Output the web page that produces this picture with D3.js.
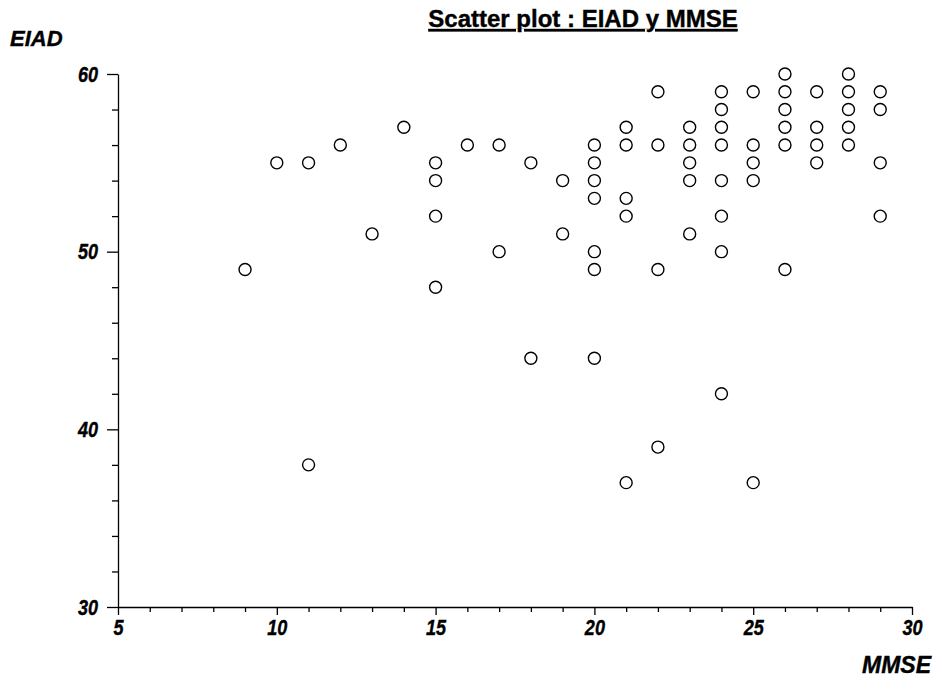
<!DOCTYPE html>
<html>
<head>
<meta charset="utf-8">
<script src="https://cdn.jsdelivr.net/npm/d3@7"></script>
<style>
  body { margin: 0; background: #fff; }
  svg text { font-family: "Liberation Sans", Arial, sans-serif; fill: #000; stroke: #000; stroke-width: 0.4px; }
</style>
</head>
<body>
<svg id="chart" width="937" height="684"></svg>
<script>
// data: one array of EIAD values per MMSE score
let mmse = [9, 10, 11, 12, 13, 14, 15, 16, 17, 18, 19, 20, 21, 22, 23, 24, 25, 26, 27, 28, 29];
let eiad = [
  [49],
  [55],
  [55, 38],
  [56],
  [51],
  [57],
  [55, 54, 52, 48],
  [56],
  [56, 50],
  [55, 44],
  [54, 51],
  [56, 55, 54, 53, 50, 49, 44],
  [57, 56, 53, 52, 37],
  [59, 56, 49, 39],
  [57, 56, 55, 54, 51],
  [59, 58, 57, 56, 54, 52, 50, 42],
  [59, 56, 55, 54, 37],
  [60, 59, 58, 57, 56, 49],
  [59, 57, 56, 55],
  [60, 59, 58, 57, 56],
  [59, 58, 55, 52]
];
let xTicks = d3.range(5, 31, 1);
let yTicks = d3.range(30, 61, 2);

let svg = d3.select('#chart');

// scales
let x = d3.scaleLinear()
  .domain([5, 30])
  .range([118, 912]);

let y = d3.scaleLinear()
  .domain([30, 60])
  .range([607, 74]);

// flatten the columns into points
let points = [];
mmse.forEach(function(m, i) {
  eiad[i].forEach(function(v) {
    points.push({ x: m, y: v });
  });
});

// ************************************
// Axes
// ************************************

let xAxis = svg.append('g')
  .attr('transform', 'translate(0,' + y(30) + ')')
  .call(d3.axisBottom(x)
    .tickValues(xTicks)
    .tickSizeInner(5)
    .tickSizeOuter(0)
    .tickFormat(function(d) { return d % 5 === 0 ? d : ''; }));

xAxis.selectAll('.tick line')
  .attr('y2', function(d) { return d % 5 === 0 ? 8 : 5; });
xAxis.selectAll('.tick text')
  .attr('y', 12)
  .style('font-size', '22px')
  .style('font-weight', 'bold')
  .style('font-style', 'italic');

let yAxis = svg.append('g')
  .attr('transform', 'translate(' + x(5) + ',0)')
  .call(d3.axisLeft(y)
    .tickValues(yTicks)
    .tickSizeInner(6)
    .tickSizeOuter(0)
    .tickFormat(function(d) { return d % 10 === 0 ? d : ''; }));

yAxis.selectAll('.tick line')
  .attr('x2', function(d) { return d % 10 === 0 ? -11 : -6; });
yAxis.selectAll('.tick text')
  .attr('x', -20)
  .style('font-size', '22px')
  .style('font-weight', 'bold')
  .style('font-style', 'italic');

svg.selectAll('.domain, .tick line')
  .attr('stroke', '#000')
  .attr('stroke-width', 1.3);

// tick labels in the picture are narrower than Arial
condense(svg.selectAll('.tick text'), 0.82);

// ************************************
// Points
// ************************************

svg.append('g')
  .selectAll('circle')
  .data(points)
  .enter()
  .append('circle')
  .attr('cx', function(d) { return x(d.x); })
  .attr('cy', function(d) { return y(d.y); })
  .attr('r', 6)
  .attr('fill', 'none')
  .attr('stroke', '#000')
  .attr('stroke-width', 1.4);

// ************************************
// Titles
// ************************************

svg.append('text')
  .attr('x', 583)
  .attr('y', 27)
  .attr('text-anchor', 'middle')
  .style('font-size', '24px')
  .style('font-weight', 'bold')
  .style('text-decoration', 'underline')
  .text('Scatter plot : EIAD y MMSE');

svg.append('text')
  .attr('x', 10)
  .attr('y', 46)
  .style('font-size', '22px')
  .style('font-weight', 'bold')
  .style('font-style', 'italic')
  .text('EIAD');

svg.append('text')
  .attr('x', 931)
  .attr('y', 673)
  .attr('text-anchor', 'end')
  .style('font-size', '23px')
  .style('font-weight', 'bold')
  .style('font-style', 'italic')
  .text('MMSE');

// squeeze text horizontally by factor k
function condense(sel, k) {
  sel.each(function() {
    let w = this.getComputedTextLength();
    if (w > 0) {
      d3.select(this)
        .attr('textLength', w * k)
        .attr('lengthAdjust', 'spacingAndGlyphs');
    }
  });
}
</script>
</body>
</html>
